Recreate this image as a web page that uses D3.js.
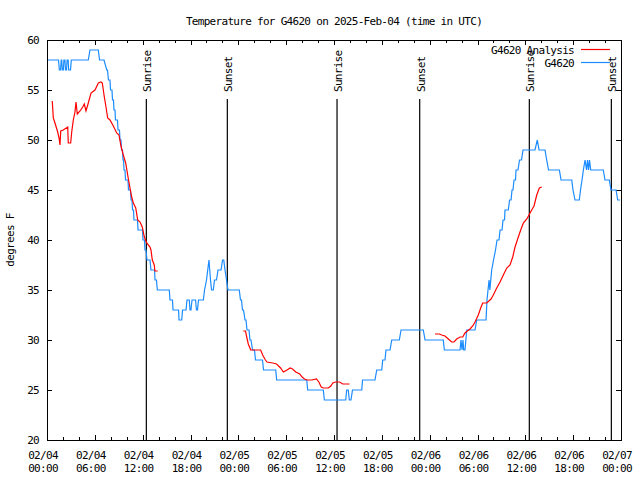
<!DOCTYPE html>
<html><head><meta charset="utf-8">
<script src="https://cdn.jsdelivr.net/npm/d3@7"></script>
<style>
body{margin:0;background:#fff}
text{font-family:"DejaVu Sans Mono",monospace;font-size:11px;letter-spacing:-0.7px;fill:#000}
</style>
</head><body>
<svg id="chart" width="640" height="480"></svg>
<script>
// ---------- data ----------
const chartTitle = "Temperature for G4620 on 2025-Feb-04 (time in UTC)";
const yAxisLabel = "degrees F";
const seriesNames = ["G4620 Analysis", "G4620"];
const startUTC = Date.UTC(2025, 1, 4, 0, 0);     // hours below are counted from here
const yTicks = [20, 25, 30, 35, 40, 45, 50, 55, 60];
const xTickHours = [0, 6, 12, 18, 24, 30, 36, 42, 48, 54, 60, 66, 72];
const xMinorHours = d3.range(0, 73, 2);
const sunEvents = ["Sunrise", "Sunset", "Sunrise", "Sunset", "Sunrise", "Sunset"];
const sunHours  = [12.46, 22.62, 36.38, 46.75, 60.50, 70.79];

// observed station temperature (G4620)
const obsHours = [0,1.44,1.55,1.70,1.78,1.85,1.92,2.05,2.12,2.25,2.32,2.45,2.52,2.65,2.72,2.95,3.05,5.18,5.39,6.44,6.59,7.15,7.49,7.59,7.71,7.90,7.97,8.15,8.22,8.34,8.40,8.53,8.59,8.84,8.91,9.09,9.16,9.28,9.35,9.47,9.53,9.60,9.66,9.78,9.85,10.16,10.22,10.47,10.54,10.66,10.73,10.85,10.91,11.35,11.42,11.98,12.04,12.23,12.29,12.42,12.54,12.92,13.04,13.49,13.55,13.73,13.84,15.34,15.43,15.74,15.81,16.50,16.56,16.90,17.00,17.44,17.56,17.85,17.94,18.06,18.19,18.63,18.75,18.88,19.00,19.61,19.76,20.01,20.16,20.32,20.41,20.51,20.64,20.86,21.01,21.26,21.45,21.83,22.02,22.17,22.33,22.52,22.70,24.12,24.27,24.40,24.52,24.65,24.84,24.96,25.09,25.34,25.46,25.59,25.78,26.03,26.15,27.03,27.16,28.69,28.81,32.58,32.70,34.66,34.79,37.47,37.59,37.79,37.92,38.13,38.32,39.48,39.58,41.14,41.36,41.99,42.11,42.40,42.52,43.03,43.24,44.19,44.41,47.20,47.42,49.71,49.84,51.81,51.93,52.06,52.18,52.27,52.43,52.65,53.69,53.90,55.07,55.19,55.45,55.55,55.78,56.01,56.26,56.45,56.70,56.83,57.08,57.20,57.39,57.45,57.87,58.02,58.21,58.33,58.45,58.58,58.77,58.83,59.08,59.27,59.52,59.71,61.21,61.50,61.72,62.47,62.68,62.91,64.27,64.48,65.82,65.98,66.23,66.77,66.92,67.11,67.28,67.49,67.68,67.80,67.93,68.05,68.20,69.78,69.99,70.53,70.75,71.38,71.59,71.88];
const obsTemps = [58,58,57,57,58,58,57,57,58,58,57,57,58,58,57,57,58,58,59,59,58,58,57,57,56,56,55,55,54,54,53,53,52,52,51,51,50,50,49,49,48,48,47,47,46,46,45,45,44,44,43,43,42,42,41,41,40,40,39,39,38,38,37,37,36,36,35,35,34,34,33,33,32,32,33,33,34,34,33,33,34,34,33,33,34,34,35,36,37,38,37,36,35,35,36,36,37,37,38,38,37,36,35,35,34,34,33,33,32,32,31,31,30,30,29,29,28,28,27,27,26,26,25,25,24,24,25,25,24,24,25,25,26,26,27,27,28,28,29,29,30,30,31,31,30,30,29,29,30,29,30,29,29,31,31,32,32,34,36,35,37,38,39,40,40,41,41,42,42,43,43,44,44,45,45,46,46,47,47,48,48,49,49,50,49,49,48,47,47,46,46,45,44,44,45,46,47,48,47,48,47,48,47,47,46,46,45,45,44,44];

// analysis temperature (G4620 Analysis); null marks a gap
const anaHours = [0.66,0.79,1.00,1.34,1.51,1.63,1.72,2.04,2.60,2.67,2.97,3.10,3.30,3.51,3.64,3.80,4.14,4.48,4.68,4.89,5.11,5.52,6.02,6.44,6.77,6.94,7.19,7.40,7.61,7.90,8.32,8.74,9.03,9.28,9.57,9.87,10.12,10.41,10.62,10.83,11.13,11.38,11.67,11.95,12.21,12.51,12.92,13.04,13.21,13.45,13.54,13.89,
  null,
  24.62,24.90,25.05,25.25,25.55,26.80,27.05,27.40,27.60,28.30,28.80,29.30,29.65,30.10,30.50,30.80,31.20,31.70,32.00,32.30,32.60,33.20,33.80,34.10,34.40,34.66,35.30,35.60,35.85,36.20,36.70,37.10,37.95,
  null,
  48.67,49.21,49.51,49.92,50.34,50.76,51.05,51.39,51.81,52.15,52.43,52.72,53.06,53.40,53.69,54.10,54.40,54.65,55.16,55.70,55.98,56.41,56.83,57.24,57.67,58.08,58.42,58.71,59.12,59.42,59.75,60.18,60.46,60.80,61.09,61.43,61.76,62.06];
const anaTemps = [53.9,52.2,51.7,50.8,50.2,49.5,50.9,51.0,51.3,49.7,49.7,50.8,52.0,52.8,53.8,52.6,52.9,53.3,53.6,52.9,53.5,54.7,55.0,55.7,55.8,55.7,54.3,53.3,52.2,52.0,51.4,50.7,50.5,49.4,48.5,47.7,46.5,45.2,44.3,43.7,43.2,42.0,41.8,41.3,40.3,39.7,39.3,39.0,38.0,37.5,36.9,36.9,
  null,
  30.9,30.9,30.3,29.6,29.0,29.0,28.5,28.0,27.8,27.7,27.6,27.2,26.8,27.0,27.2,27.1,26.8,26.6,26.3,26.1,26.0,26.0,26.1,25.8,25.3,25.2,25.2,25.4,25.7,25.8,25.8,25.6,25.6,
  null,
  30.6,30.6,30.5,30.4,30.1,29.8,29.8,30.1,30.3,30.3,30.7,30.9,31.1,31.4,31.8,32.5,33.2,33.7,33.7,34.1,34.5,35.2,35.8,36.5,37.2,37.5,38.3,39.3,40.3,41.0,41.7,42.1,42.5,43.0,43.4,44.5,45.2,45.3];

// ---------- drawing ----------
const toDate = h => new Date(startUTC + h * 3600e3);
const svg = d3.select("#chart");
const L = 47, R = 621, T = 40, B = 440;
const x = d3.scaleUtc().domain([toDate(0), toDate(72)]).range([L, R]);
const y = d3.scaleLinear().domain([20, 60]).range([B, T]);
const red = "#ff0000", blue = "#1a8cff";

svg.append("text").attr("x", 334).attr("y", 25).attr("text-anchor", "middle").text(chartTitle);

// axes (inward ticks, mirrored)
function axisG(axis, tx, ty) {
  const g = svg.append("g").attr("transform", `translate(${tx},${ty})`)
    .attr("shape-rendering", "crispEdges").call(axis);
  g.select(".domain").remove();
  g.selectAll("line").attr("stroke", "#000");
  return g;
}
const xMajor = xTickHours.map(toDate), xMinor = xMinorHours.map(toDate);
axisG(d3.axisBottom(x).tickValues(xMinor).tickSize(-3).tickFormat(""), 0, B);
axisG(d3.axisBottom(x).tickValues(xMajor).tickSize(-5).tickFormat(""), 0, B);
axisG(d3.axisTop(x).tickValues(xMinor).tickSize(-3).tickFormat(""), 0, T);
axisG(d3.axisTop(x).tickValues(xMajor).tickSize(-5).tickFormat(""), 0, T);
const gy = axisG(d3.axisLeft(y).tickValues(yTicks).tickSize(-5).tickPadding(8), L, 0);
gy.selectAll("text").attr("font-size", null).attr("font-family", null).attr("dy", "0.36em");
gy.attr("font-size", null).attr("font-family", null);
axisG(d3.axisRight(y).tickValues(yTicks).tickSize(-5).tickFormat(""), R, 0);

// two-line x tick labels
const fmtD = d3.utcFormat("%m/%d"), fmtH = d3.utcFormat("%H:%M");
const xl = svg.append("g").selectAll("text").data(xMajor).join("text")
  .attr("text-anchor", "middle").attr("transform", d => `translate(${x(d) - 4},0)`);
xl.append("tspan").attr("x", 0).attr("y", 459).text(d => fmtD(d));
xl.append("tspan").attr("x", 0).attr("y", 472).text(d => fmtH(d));

svg.append("text").attr("transform", "translate(14,240) rotate(-90)")
  .attr("text-anchor", "middle").text(yAxisLabel);

// sunrise / sunset markers
const sun = svg.append("g").selectAll("g").data(sunHours.map((h, i) => ({ t: toDate(h), name: sunEvents[i] }))).join("g");
sun.append("line").attr("x1", d => x(d.t)).attr("x2", d => x(d.t)).attr("y1", 99).attr("y2", B)
  .attr("stroke", "#000").attr("stroke-width", 1.2);
sun.append("text").attr("transform", d => `translate(${x(d.t) + 5},92) rotate(-90)`).text(d => d.name);

// series
const pts = (hs, vs) => hs.map((h, i) => h === null ? null : [toDate(h), vs[i]]);
const line = d3.line().defined(d => d !== null).x(d => x(d[0])).y(d => y(d[1]));
svg.append("path").datum(pts(obsHours, obsTemps)).attr("d", line)
  .attr("fill", "none").attr("stroke", blue).attr("stroke-width", 1.2);
svg.append("path").datum(pts(anaHours, anaTemps)).attr("d", line)
  .attr("fill", "none").attr("stroke", red).attr("stroke-width", 1.2);

// frame
svg.append("rect").attr("x", L + 0.5).attr("y", T + 0.5).attr("width", R - L).attr("height", B - T)
  .attr("fill", "none").attr("stroke", "#000").attr("shape-rendering", "crispEdges");

// legend
const legColors = [red, blue];
const leg = svg.append("g").selectAll("g").data(seriesNames).join("g")
  .attr("transform", (d, i) => `translate(0,${54 + i * 13})`);
leg.append("text").attr("x", 574).attr("text-anchor", "end").text(d => d);
leg.append("line").attr("x1", 581).attr("x2", 610).attr("y1", -4.5).attr("y2", -4.5)
  .attr("stroke", (d, i) => legColors[i]).attr("stroke-width", 1.2);
</script>
</body></html>
